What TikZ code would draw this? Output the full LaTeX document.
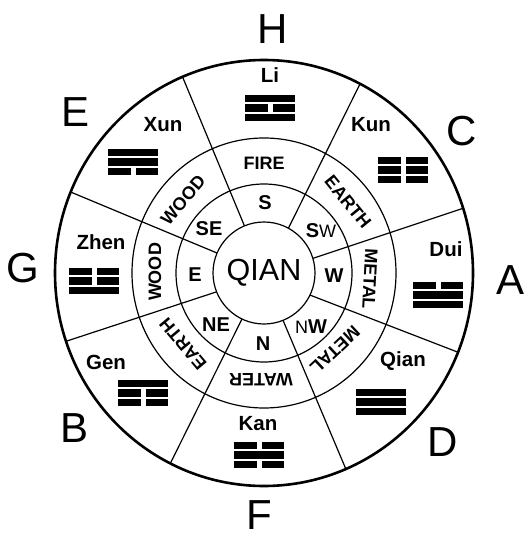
\documentclass[tikz,border=0pt]{standalone}
\usepackage{fontspec}
\setmainfont{Liberation Sans}
\newcommand\tgbar[3]{%
  \ifnum#3=1
    \fill (#1-25,#2-3.75) rectangle (#1+25,#2+3.75);
  \else
    \fill (#1-25,#2-3.75) rectangle (#1-2.5,#2+3.75);
    \fill (#1+2.5,#2-3.75) rectangle (#1+25,#2+3.75);
  \fi}
\newcommand\trigram[5]{%
  \tgbar{#1}{#2-9.5}{#3}\tgbar{#1}{#2}{#4}\tgbar{#1}{#2+9.5}{#5}}
\begin{document}
\begin{tikzpicture}[x=1pt,y=-1pt,
  big/.style={font=\fontsize{42}{42}\selectfont, inner sep=0pt},
  tname/.style={font=\bfseries\fontsize{20.5}{20.5}\selectfont, inner sep=0pt},
  elem/.style={font=\bfseries\fontsize{18}{18}\selectfont, inner sep=0pt},
  dirl/.style={font=\bfseries\fontsize{20}{20}\selectfont, inner sep=0pt},
  ringline/.style={line width=1.2pt},
  divider/.style={line width=1.2pt, shorten <=-30pt, shorten >=-30pt},
]
\useasboundingbox (0,0) rectangle (524,540);
\coordinate (c) at (264,273);
% circles
\draw[line width=2.6pt] (c) ellipse[x radius=209, y radius=213];
\draw[ringline] (c) ellipse[x radius=132, y radius=135];
\draw[ringline] (c) ellipse[x radius=88, y radius=89];
\draw[ringline] (c) circle[radius=51];
% dividers
\begin{scope}[even odd rule]
  \clip (c) ellipse[x radius=209, y radius=213] (c) circle[radius=51];
  \draw[divider] (242,220) -- (183,78);
  \draw[divider] (290,225) -- (358,88);
  \draw[divider] (317,257) -- (464,208);
  \draw[divider] (315,297) -- (460,353);
  \draw[divider] (285,325) -- (345,467);
  \draw[divider] (240,323) -- (172,460);
  \draw[divider] (213,293) -- (70,340);
  \draw[divider] (217,253) -- (73,193);
\end{scope}
% outer letters
\node[big] (H) at (273,29) {H};
\node[big] (E) at (76,112) {E};
\node[big] (C) at (462,131) {C};
\node[big] (G) at (23,268) {G};
\node[big] (A) at (510,280) {A};
\node[big] (B) at (75,428) {B};
\node[big] (D) at (443,442) {D};
\node[big] (F) at (259,515) {F};
% center
\node[font=\fontsize{30.5}{30.5}\selectfont, inner sep=0pt] (qian) at (264,273) {QIAN};
% directions
\node[dirl] (dS) at (265,203) {S};
\node[dirl] (dSW) at (321,231) {S{\mdseries\fontsize{18}{18}\selectfont W}};
\node[dirl] (dW) at (334,276) {W};
\node[dirl] (dNW) at (311,327) {{\mdseries\fontsize{18}{18}\selectfont N}W};
\node[dirl] (dN) at (263,344) {N};
\node[dirl] (dNE) at (216,325) {NE};
\node[dirl] (dE) at (195,275) {E};
\node[dirl] (dSE) at (209,229) {SE};
% elements
\node[elem] (e1) at (264,163) {FIRE};
\node[elem, rotate=-51] (e2) at (348,202) {EARTH};
\node[elem, rotate=-93] (e3) at (370,279) {METAL};
\node[elem, rotate=-137] (e4) at (335,350) {METAL};
\node[elem, rotate=180] (e5) at (261,380) {WATER};
\node[elem, rotate=130] (e6) at (183,344) {EARTH};
\node[elem, rotate=90] (e7) at (155,272) {WOOD};
\node[elem, rotate=49.5] (e8) at (183,200) {WOOD};
% trigram names
\node[tname] (nLi) at (270,75) {Li};
\node[tname] (nKun) at (371,125) {Kun};
\node[tname] (nDui) at (446,249) {Dui};
\node[tname] (nQian) at (403,361) {Qian};
\node[tname] (nKan) at (258,424) {Kan};
\node[tname] (nGen) at (106,362) {Gen};
\node[tname] (nZhen) at (101,242) {Zhen};
\node[tname] (nXun) at (163,125) {Xun};
% trigrams (top, middle, bottom; 1 = solid)
\trigram{270}{108}{1}{0}{1}
\trigram{403}{170}{0}{0}{0}
\trigram{438}{295}{0}{1}{1}
\trigram{381}{402}{1}{1}{1}
\trigram{259}{455}{0}{1}{0}
\trigram{143}{393}{1}{0}{0}
\trigram{94}{281}{0}{0}{1}
\trigram{133}{162}{1}{1}{0}
\end{tikzpicture}
\end{document}
